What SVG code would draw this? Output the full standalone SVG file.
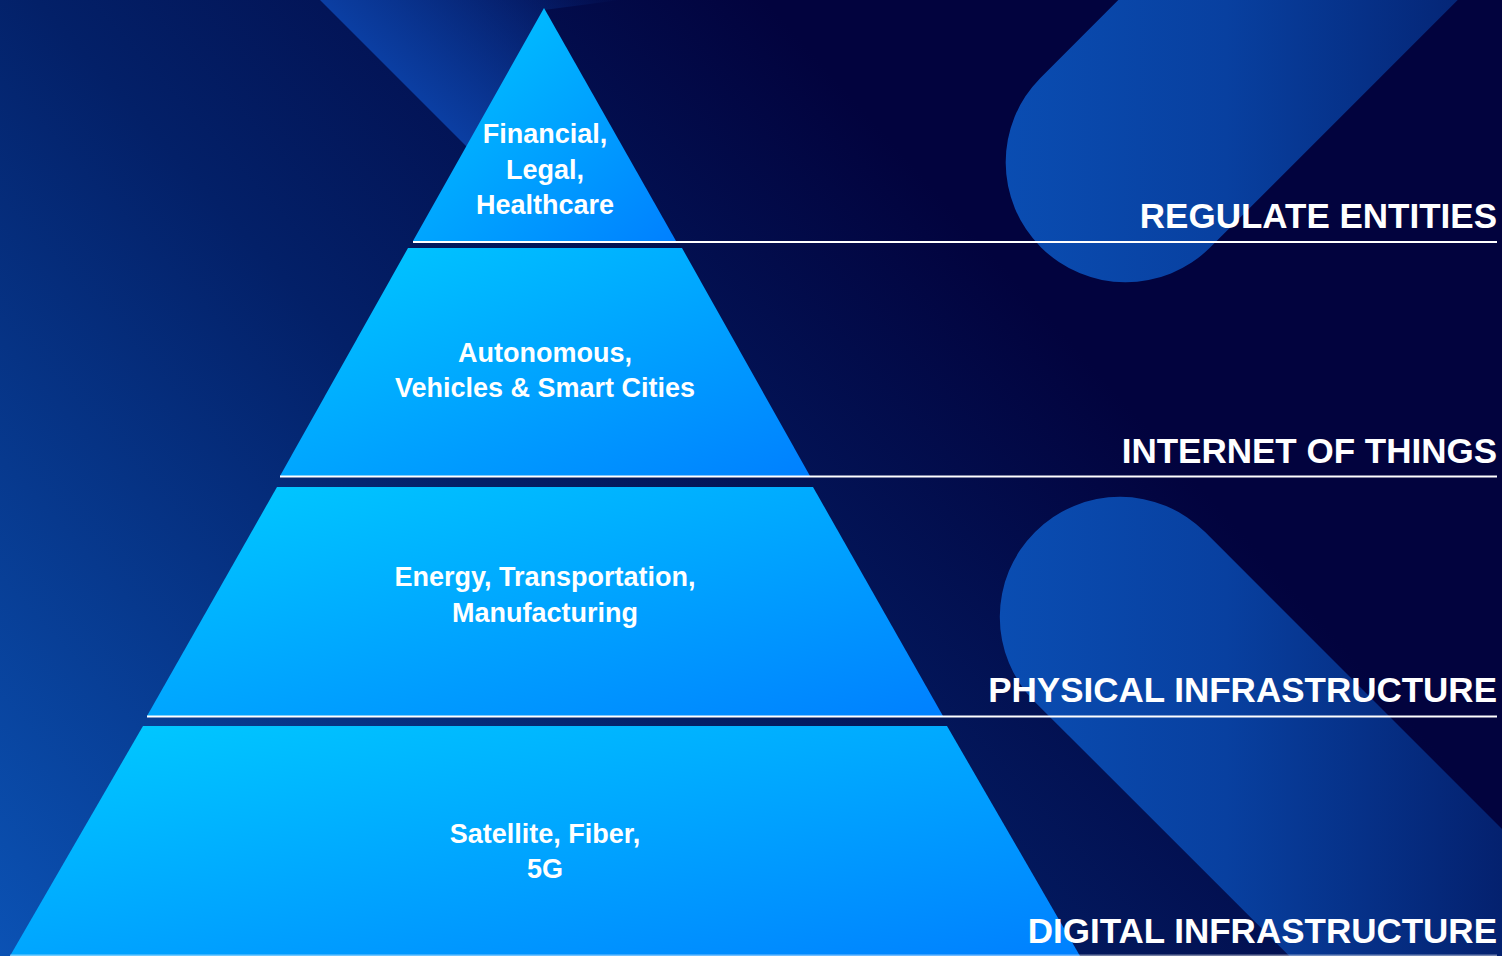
<svg xmlns="http://www.w3.org/2000/svg" width="1502" height="956" viewBox="0 0 1502 956">
  <defs>
    <linearGradient id="bg" gradientUnits="userSpaceOnUse" x1="0" y1="956" x2="900" y2="150">
      <stop offset="0" stop-color="#0b52b4"/>
      <stop offset="0.55" stop-color="#032068"/>
      <stop offset="1" stop-color="#02033e"/>
    </linearGradient>
    <linearGradient id="band" gradientUnits="userSpaceOnUse" x1="395" y1="72" x2="545" y2="-78">
      <stop offset="0" stop-color="#0b3ea2" stop-opacity="1"/>
      <stop offset="1" stop-color="#0b3ea2" stop-opacity="0"/>
    </linearGradient>
    <linearGradient id="pill" gradientUnits="userSpaceOnUse" x1="1000" y1="0" x2="1502" y2="0">
      <stop offset="0" stop-color="#0a4db2"/>
      <stop offset="0.45" stop-color="#0840a0"/>
      <stop offset="1" stop-color="#04216f"/>
    </linearGradient>
    <linearGradient id="tier" x1="0" y1="0" x2="1" y2="1">
      <stop offset="0" stop-color="#00cbff"/>
      <stop offset="1" stop-color="#0080ff"/>
    </linearGradient>
    <style>
      .tier { fill: url(#tier); }
      .lbl { font-family: "Liberation Sans", Arial, sans-serif; font-weight: bold; font-size: 27px; fill: #ffffff; text-anchor: middle; }
      .head { font-family: "Liberation Sans", Arial, sans-serif; font-weight: bold; font-size: 35px; fill: #ffffff; text-anchor: end; }
      .sep { stroke: #ffffff; stroke-width: 2; fill: none; }
    </style>
  </defs>

  <g id="background">
    <rect x="0" y="0" width="1502" height="956" fill="url(#bg)"/>
    <polygon points="320,0 620,0 544,10 470,150" fill="url(#band)"/>
    <path d="M 1040.15,78.15 L 1393.7,-275.4 L 1563.4,-105.7 L 1209.85,247.85 A 120 120 0 0 1 1040.15,78.15 Z" fill="url(#pill)"/>
    <path d="M 1205.1,532.1 L 1629.4,956.4 L 1459.7,1126.1 L 1034.9,701.9 A 120 120 0 0 1 1205.1,532.1 Z" fill="url(#pill)"/>
  </g>

  <g id="tier-regulate">
    <polygon class="tier" points="544,8 676,241 413,241"/>
    <text class="lbl" x="545" y="143">Financial,</text>
    <text class="lbl" x="545" y="179">Legal,</text>
    <text class="lbl" x="545" y="214">Healthcare</text>
  </g>

  <g id="tier-iot">
    <polygon class="tier" points="408,248 682,248 810,476 280,476"/>
    <text class="lbl" x="545" y="362">Autonomous,</text>
    <text class="lbl" x="545" y="397">Vehicles &amp; Smart Cities</text>
  </g>

  <g id="tier-physical">
    <polygon class="tier" points="277,487 813,487 943,716 147,716"/>
    <text class="lbl" x="545" y="586">Energy, Transportation,</text>
    <text class="lbl" x="545" y="622">Manufacturing</text>
  </g>

  <g id="tier-digital">
    <polygon class="tier" points="143,726 947,726 1080,956 10,956"/>
    <text class="lbl" x="545" y="843">Satellite, Fiber,</text>
    <text class="lbl" x="545" y="878">5G</text>
  </g>

  <g id="connectors">
    <line class="sep" x1="413" y1="242" x2="1497" y2="242"/>
    <line class="sep" x1="280" y1="476.5" x2="1497" y2="476.5"/>
    <line class="sep" x1="147" y1="716.5" x2="1497" y2="716.5"/>
    <line class="sep" x1="10" y1="955.5" x2="1497" y2="955.5" stroke-opacity="0.45"/>
  </g>

  <g id="head-regulate">
    <text class="head" x="1497" y="228" font-size="34">REGULATE ENTITIES</text>
  </g>
  <g id="head-iot">
    <text class="head" x="1497" y="463">INTERNET OF THINGS</text>
  </g>
  <g id="head-physical">
    <text class="head" x="1497" y="702">PHYSICAL INFRASTRUCTURE</text>
  </g>
  <g id="head-digital">
    <text class="head" x="1497" y="943">DIGITAL INFRASTRUCTURE</text>
  </g>
</svg>
